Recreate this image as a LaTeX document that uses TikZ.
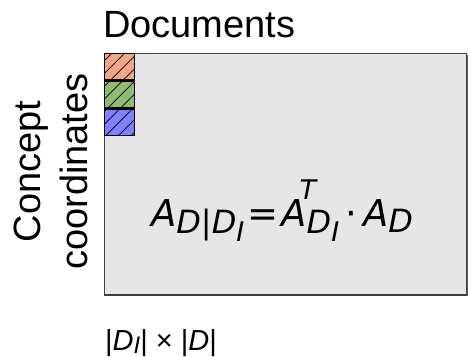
\documentclass[tikz,border=0pt]{standalone}
\usepackage{fontspec}
\setmainfont{Liberation Sans}
\newfontfamily\dvs{DejaVu Sans}
\usetikzlibrary{patterns.meta}
\definecolor{csalmon}{RGB}{241,165,137}
\definecolor{cgreen}{RGB}{143,186,118}
\definecolor{cblue}{RGB}{128,128,255}
\definecolor{boxfill}{RGB}{230,230,230}
\definecolor{boxline}{RGB}{64,64,64}
\newcommand\fsz[1]{\fontsize{#1}{#1}\selectfont}
\begin{document}
\begin{tikzpicture}[x=1pt,y=-1pt,
  lbl/.style={inner sep=0pt, font=\fsz{38}},
  cell/.style={draw=black, line width=1.2pt, minimum width=30.5pt, minimum height=26.6pt,
    inner sep=0pt, anchor=north west,
    postaction={pattern={Lines[angle=45,distance=9pt,line width=0.7pt]}}},
  mat/.style={draw=boxline, fill=boxfill, line width=1.3pt, inner sep=0pt,
    minimum width=362.5pt, minimum height=241.6pt, anchor=north west}]
\useasboundingbox (0,0) rectangle (468,356);
% shadow
\draw[boxline!85, line width=1.4pt] (105,295.6) -- (467,295.6) -- (467,55);
\node[mat] (matrix) at (103.5,52.7) {};
\node[cell, fill=csalmon] (c1) at (103.5,52.7) {};
\node[cell, fill=cgreen] (c2) at (c1.south west) {};
\node[cell, fill=cblue] (c3) at (c2.south west) {};
\node[lbl, anchor=base west] (docs) at (103,37.5) {Documents};
\node[lbl, rotate=90, anchor=base] (concept) at (40,171.5) {Concept};
\node[lbl, rotate=90, anchor=base] (coords) at (87.3,171.5) {coordinates};
\node[inner sep=0pt, anchor=base] (formula) at (282,226)
  {\dvs\itshape\fsz{37}A\raisebox{-7pt}{\fsz{32}D|D\raisebox{-8.5pt}{\fsz{27}I}}\kern3pt{\upshape=}\kern3pt A\rlap{\kern-7pt\raisebox{27pt}{\fsz{27}T}}\raisebox{-7pt}{\fsz{32}D\raisebox{-8.5pt}{\fsz{27}I}}\kern6pt{\upshape ⋅}\kern6pt A\raisebox{-6pt}{\fsz{32}D}};
\node[inner sep=0pt, anchor=base west] (size) at (105,350.5)
  {\fsz{29}|\textit{D}\raisebox{-3pt}{\fsz{24}\textit{I}}| × |\textit{D}|};
\end{tikzpicture}
\end{document}
